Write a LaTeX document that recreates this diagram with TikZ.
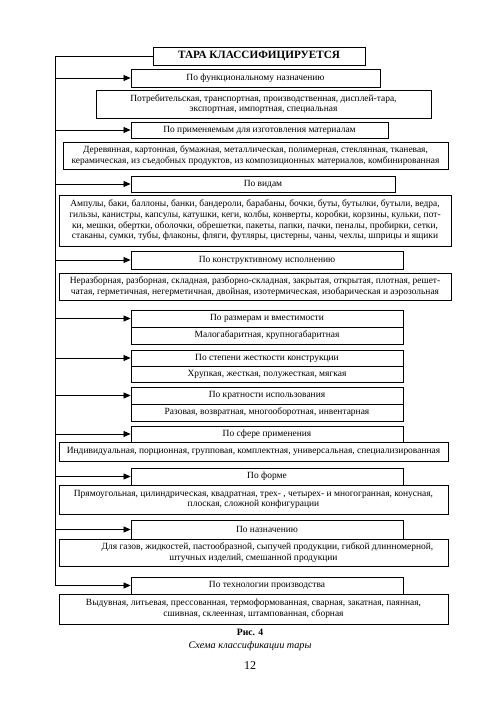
\documentclass[tikz,border=0pt]{standalone}
\usepackage{fontspec}
\setmainfont{Liberation Serif}
\usetikzlibrary{arrows.meta}

\begin{document}
\begin{tikzpicture}[
    x=1pt, y=-1pt,
    every node/.style={font=\fontsize{9.45}{10.6}\selectfont},
    title/.style={rectangle, draw, line width=1pt, inner sep=0pt, font=\fontsize{11.2}{13}\selectfont\bfseries},
    head/.style={rectangle, draw, line width=0.9pt, inner sep=0pt, align=center},
    list/.style={rectangle, draw, line width=0.9pt, inner sep=0pt, align=center},
    arr/.style={line width=0.7pt, -{Triangle[length=7pt,width=6pt]}}
]
\useasboundingbox (0,0) rectangle (500,707);

% Title
\node[title, minimum width=212pt, minimum height=18pt] (tara) at (259,56) {ТАРА КЛАССИФИЦИРУЕТСЯ};

% Functional purpose
\node[head, minimum width=249pt, minimum height=18pt] (func) at (255.5,78) {По функциональному назначению};
\node[list, minimum width=335pt, minimum height=28pt] (func-list) at (263.5,104) {Потребительская, транспортная, производственная, дисплей-тара,\\экспортная, импортная, специальная};

% Materials
\node[head, minimum width=257pt, minimum height=16pt] (mat) at (259.5,130) {По применяемым для изготовления материалам};
\node[list, minimum width=385pt, minimum height=27pt] (mat-list) at (255.5,155.5) {Деревянная, картонная, бумажная, металлическая, полимерная, стеклянная, тканевая,\\керамическая, из съедобных продуктов, из композиционных материалов, комбинированная};

% Kinds
\node[head, minimum width=264pt, minimum height=16pt] (kind) at (263,184) {По видам};
\node[list, minimum width=392pt, minimum height=51pt] (kind-list) at (255,220.5) {Ампулы, баки, баллоны, банки, бандероли, барабаны, бочки, буты, бутылки, бутыли, ведра,\\гильзы, канистры, капсулы, катушки, кеги, колбы, конверты, коробки, корзины, кульки, пот-\\ки, мешки, обертки, оболочки, обрешетки, пакеты, папки, пачки, пеналы, пробирки, сетки,\\стаканы, сумки, тубы, флаконы, фляги, футляры, цистерны, чаны, чехлы, шприцы и ящики};

% Design
\node[head, minimum width=272pt, minimum height=18pt] (design) at (267,260) {По конструктивному исполнению};
\node[list, minimum width=392pt, minimum height=27pt] (design-list) at (255,286.5) {Неразборная, разборная, складная, разборно-складная, закрытая, открытая, плотная, решет-\\чатая, герметичная, негерметичная, двойная, изотермическая, изобарическая и аэрозольная};

% Size
\node[head, minimum width=272pt, minimum height=17pt] (size) at (267,318.5) {По размерам и вместимости};
\node[list, minimum width=272pt, minimum height=17pt] (size-list) at (267,335.5) {Малогабаритная, крупногабаритная};

% Rigidity
\node[head, minimum width=272pt, minimum height=16pt] (rigid) at (267,358) {По степени жесткости конструкции};
\node[list, minimum width=272pt, minimum height=16pt] (rigid-list) at (267,374) {Хрупкая, жесткая, полужесткая, мягкая};

% Reuse
\node[head, minimum width=272pt, minimum height=17pt] (reuse) at (267,395.5) {По кратности использования};
\node[list, minimum width=272pt, minimum height=17pt] (reuse-list) at (267,412.5) {Разовая, возвратная, многооборотная, инвентарная};

% Application
\node[head, minimum width=272pt, minimum height=16pt] (appl) at (267,434) {По сфере применения};
\node[list, minimum width=389pt, minimum height=19pt] (appl-list) at (253.5,451.5) {Индивидуальная, порционная, групповая, комплектная, универсальная, специализированная};

% Shape
\node[head, minimum width=272pt, minimum height=17pt] (shape) at (267,476.5) {По форме};
\node[list, minimum width=389pt, minimum height=29pt] (shape-list) at (253.5,499.5) {Прямоугольная, цилиндрическая, квадратная, трех- , четырех- и многогранная, конусная,\\плоская, сложной конфигурации};

% Purpose
\node[head, minimum width=272pt, minimum height=19pt] (purp) at (267,529.5) {По назначению};
\node[list, minimum width=389pt, minimum height=27pt] (purp-list) at (253.5,552.5) {\hspace*{28pt}Для газов, жидкостей, пастообразной, сыпучей продукции, гибкой длинномерной,\\штучных изделий, смешанной продукции};

% Technology
\node[head, minimum width=272pt, minimum height=17pt] (tech) at (267,585.5) {По технологии производства};
\node[list, minimum width=389pt, minimum height=30pt] (tech-list) at (253.5,609) {Выдувная, литьевая, прессованная, термоформованная, сварная, закатная, паянная,\\сшивная, склеенная, штампованная, сборная};

% Caption
\node[font=\fontsize{9.7}{11}\selectfont\bfseries] (fig) at (250,632) {Рис. 4};
\node[font=\fontsize{10.2}{12}\selectfont\itshape] (fig-name) at (250,646) {Схема классификации тары};
\node[font=\fontsize{12}{14}\selectfont] (page) at (250,666) {12};

% Connections
\coordinate (spine) at (55,56);
\draw[line width=0.7pt] (tara.west) -- (spine);
\draw[arr] (spine) |- (tech.west);
\draw[arr] (spine |- func.west) -- (func.west);
\draw[arr] (spine |- mat.west) -- (mat.west);
\draw[arr] (spine |- kind.west) -- (kind.west);
\draw[arr] (spine |- design.west) -- (design.west);
\draw[arr] (spine |- size.west) -- (size.west);
\draw[arr] (spine |- rigid.west) -- (rigid.west);
\draw[arr] (spine |- reuse.west) -- (reuse.west);
\draw[arr] (spine |- appl.west) -- (appl.west);
\draw[arr] (spine |- shape.west) -- (shape.west);
\draw[arr] (spine |- purp.west) -- (purp.west);

\end{tikzpicture}
\end{document}
